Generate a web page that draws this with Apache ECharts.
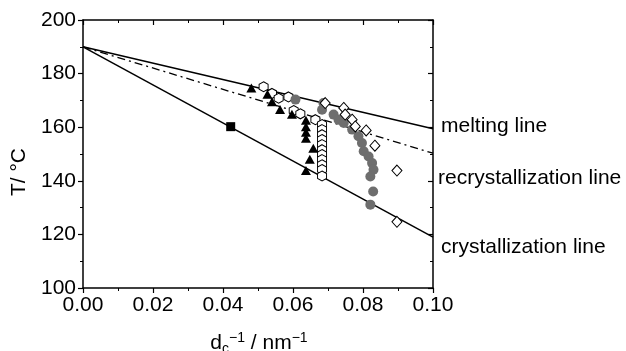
<!DOCTYPE html>
<html>
<head>
<meta charset="utf-8">
<script src="https://cdn.jsdelivr.net/npm/echarts@6/dist/echarts.min.js"></script>
<style>html,body{margin:0;padding:0;background:#fff}#c{width:626px;height:351px}</style>
</head>
<body>
<div id="c"></div>
<script>
// Axis ticks
var xTicks = [0, 0.02, 0.04, 0.06, 0.08, 0.10];
var yTicks = [100, 120, 140, 160, 180, 200];

// Guide lines (endpoints)
var meltingLine = [[0, 190], [0.1, 159.4]];
var recrystLine = [[0, 190], [0.1, 150.3]];
var crystLine = [[0, 190], [0.1, 119.0]];

// Marker series
var squares = [[0.0422, 160.2]];
var triangles = [[0.0481, 174.6], [0.0527, 172.3], [0.0540, 169.5], [0.0563, 166.6], [0.0597, 164.8],
  [0.0637, 162.6], [0.0637, 160.2], [0.0637, 158.1], [0.0637, 155.9], [0.0658, 152.1], [0.0648, 148.0], [0.0637, 143.8]];
var hexagons = [[0.0516, 175.1], [0.0540, 172.6], [0.0559, 170.8], [0.0587, 171.3], [0.0602, 166.2], [0.0621, 165.0],
  [0.0664, 162.8], [0.0683, 161.0], [0.0683, 159.1], [0.0683, 157.2], [0.0683, 155.4], [0.0683, 153.5],
  [0.0683, 151.6], [0.0683, 149.8], [0.0683, 147.9], [0.0683, 146.0], [0.0683, 144.2], [0.0683, 141.8]];
var grayCircles = [[0.0607, 170.3], [0.0687, 169.0], [0.0683, 166.5], [0.0716, 164.7], [0.0730, 162.8], [0.0745, 161.6],
  [0.0769, 159.1], [0.0787, 156.6], [0.0797, 154.1], [0.0802, 151.0], [0.0816, 149.1], [0.0826, 146.6],
  [0.0830, 144.1], [0.0821, 141.6], [0.0829, 136.0], [0.0821, 131.1]];
var diamonds = [[0.0692, 169.0], [0.0745, 167.2], [0.0749, 164.7], [0.0769, 162.8], [0.0778, 160.3],
  [0.0809, 158.8], [0.0834, 153.1], [0.0897, 143.8], [0.0897, 124.7]];

var lineLabels = ['melting line', 'recrystallization line', 'crystallization line'];

var FONT = 'Arial, "Liberation Sans", sans-serif';
var hexPath = 'path://M0,-1 L0.866,-0.5 L0.866,0.5 L0,1 L-0.866,0.5 L-0.866,-0.5 Z';

var chart = echarts.init(document.getElementById('c'), null, {renderer: 'canvas'});

function baseAxis(extra) {
  return Object.assign({
    axisLine: {show: true, onZero: false, lineStyle: {color: '#000', width: 1.5}},
    splitLine: {show: false},
    minorTick: {show: true, splitNumber: 2, length: 3, lineStyle: {color: '#000', width: 1}},
    axisTick: {show: true, length: 5, lineStyle: {color: '#000', width: 1.2}}
  }, extra);
}

var option = {
  animation: false,
  grid: {left: 83, right: 193, top: 20, bottom: 63, containLabel: false},
  xAxis: [
    baseAxis({type: 'value', position: 'bottom', min: xTicks[0], max: xTicks[xTicks.length - 1], interval: 0.02,
      axisLabel: {color: '#000', fontSize: 21, fontFamily: FONT, margin: 7,
        formatter: function (v) { return v.toFixed(2); }}}),
    baseAxis({type: 'value', position: 'top', min: xTicks[0], max: xTicks[xTicks.length - 1], interval: 0.02,
      axisTick: {show: true, inside: true, length: 5, lineStyle: {color: '#000', width: 1.2}},
      minorTick: {show: true, splitNumber: 2, length: 3, lineStyle: {color: '#000', width: 1}},
      axisLabel: {show: false}})
  ],
  yAxis: [
    baseAxis({type: 'value', position: 'left', min: yTicks[0], max: yTicks[yTicks.length - 1], interval: 20,
      axisLabel: {color: '#000', fontSize: 21, fontFamily: FONT, margin: 7}}),
    baseAxis({type: 'value', position: 'right', min: yTicks[0], max: yTicks[yTicks.length - 1], interval: 20,
      axisTick: {show: true, inside: true, length: 5, lineStyle: {color: '#000', width: 1.2}},
      minorTick: {show: true, splitNumber: 2, length: 3, lineStyle: {color: '#000', width: 1}},
      axisLabel: {show: false}})
  ],
  series: [
    {type: 'line', data: meltingLine, symbol: 'none', z: 1, lineStyle: {color: '#000', width: 1.5}},
    {type: 'line', data: recrystLine, symbol: 'none', z: 1, lineStyle: {color: '#000', width: 1.3, type: [8, 4, 2, 4]}},
    {type: 'line', data: crystLine, symbol: 'none', z: 1, lineStyle: {color: '#000', width: 1.5}},
    {type: 'scatter', data: squares, symbol: 'rect', symbolSize: 9, z: 3,
      itemStyle: {color: '#000', opacity: 1}},
    {type: 'scatter', data: hexagons, symbol: hexPath, symbolSize: [9, 10], z: 3,
      itemStyle: {color: '#fff', borderColor: '#000', borderWidth: 1, opacity: 1}},
    {type: 'scatter', data: grayCircles, symbol: 'circle', symbolSize: 10, z: 3,
      itemStyle: {color: '#6e6e6e', opacity: 1}},
    {type: 'scatter', data: diamonds, symbol: 'diamond', symbolSize: [10, 11], z: 3,
      itemStyle: {color: '#fff', borderColor: '#000', borderWidth: 1, opacity: 1}},
    {type: 'scatter', data: triangles, symbol: 'triangle', symbolSize: [10, 9], z: 4,
      itemStyle: {color: '#000', opacity: 1}}
  ],
  graphic: [
    {type: 'text', left: 441, top: 116, style: {text: lineLabels[0], fill: '#000', font: '21px ' + FONT}},
    {type: 'text', left: 438, top: 168, style: {text: lineLabels[1], fill: '#000', font: '21px ' + FONT}},
    {type: 'text', left: 441, top: 237, style: {text: lineLabels[2], fill: '#000', font: '21px ' + FONT}},
    {type: 'text', x: 19, y: 172, rotation: Math.PI / 2,
      style: {text: 'T/ °C', fill: '#000', font: '21px ' + FONT, align: 'center', verticalAlign: 'middle'}},
    {type: 'text', x: 259, y: 343,
      style: {
        text: '{a|d}{sub|c}{sup|\u22121}{a| / nm}{sup|\u22121}',
        align: 'center', verticalAlign: 'middle',
        rich: {
          a: {fontSize: 21, fontFamily: FONT, fill: '#000', lineHeight: 24},
          sub: {fontSize: 14, fontFamily: FONT, fill: '#000', padding: [12, 0, 0, 0]},
          sup: {fontSize: 14, fontFamily: FONT, fill: '#000', padding: [0, 0, 10, 0]}
        }
      }}
  ]
};
chart.setOption(option);
</script>
</body>
</html>
